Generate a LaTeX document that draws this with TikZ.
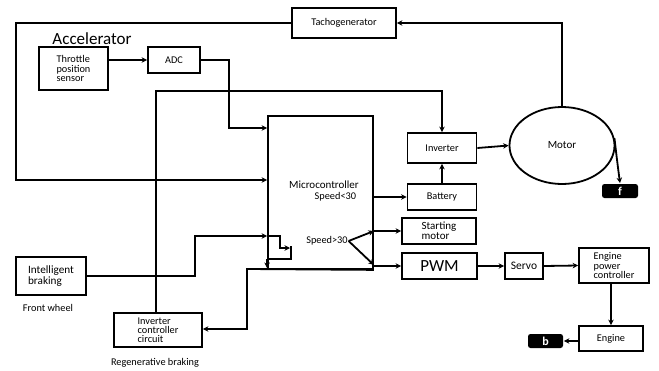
\documentclass[tikz,border=0pt]{standalone}
\usepackage{fontspec}
\setmainfont{Carlito}
\usetikzlibrary{arrows.meta,shapes.geometric}
\begin{document}
\begin{tikzpicture}[x=1pt,y=-1pt, line width=1.8pt,
 box/.style={draw, rectangle, inner sep=1pt, font=\fontsize{10.3}{9.5}\selectfont, align=left},
 lbl/.style={inner sep=0pt, font=\fontsize{10.3}{10}\selectfont},
 arr/.style={-{Stealth[length=5.5pt,width=5.5pt]}},
 tag/.style={fill=black, rounded corners=2.5pt, text=white, font=\fontsize{12}{12}\selectfont\bfseries, inner sep=0pt}]
\useasboundingbox (0,0) rectangle (659,370);
% boxes
\node[box, minimum width=104pt, minimum height=30pt] (tacho) at (344,23) {Tachogenerator};
\node[lbl, font=\fontsize{17}{17}\selectfont] (acc) at (92,39) {Accelerator};
\node[box, minimum width=69pt, minimum height=43pt] (thr) at (73.5,68.5) {Throttle\\position\\sensor};
\node[box, minimum width=52pt, minimum height=26pt] (adc) at (174,60) {ADC};
\node[draw, rectangle, minimum width=105pt, minimum height=153pt] (micro) at (320.5,192.5) {};
\node[lbl, font=\fontsize{11}{11}\selectfont] (mctext) at (324,185) {Microcontroller};
\node[lbl, anchor=east] (s30a) at (357,197) {Speed<30};
\node[lbl] (s30b) at (327,241) {Speed>30};
\node[box, minimum width=70pt, minimum height=38pt, font=\fontsize{11.2}{11}\selectfont] (ib) at (51,276) {Intelligent\\braking};
\node[lbl] (fw) at (48,308) {Front wheel};
\node[box, minimum width=88pt, minimum height=34pt, font=\fontsize{10.3}{9}\selectfont] (icc) at (158,330) {Inverter\\controller\\circuit};
\node[lbl] (rb) at (155,363) {Regenerative braking};
\node[box, minimum width=69pt, minimum height=30pt] (inv) at (442,148) {Inverter};
\node[box, minimum width=69pt, minimum height=26pt] (bat) at (442,197) {Battery};
\node[draw, ellipse, minimum width=105pt, minimum height=77pt, font=\fontsize{11}{11}\selectfont] (motor) at (562,145.5) {Motor};
\node[tag, minimum width=36pt, minimum height=14pt] (f) at (620,191) {f};
\node[box, minimum width=74pt, minimum height=26pt, font=\fontsize{11}{10}\selectfont] (stm) at (439,231) {Starting\\motor};
\node[box, minimum width=75pt, minimum height=26pt, font=\fontsize{17}{17}\selectfont] (pwm) at (439.5,266) {PWM};
\node[box, minimum width=38pt, minimum height=26pt, font=\fontsize{11.5}{11}\selectfont] (servo) at (524,266) {Servo};
\node[box, minimum width=70pt, minimum height=35pt] (epc) at (614,265.5) {Engine\\power\\controller};
\node[box, minimum width=64pt, minimum height=25pt] (eng) at (611,338.5) {Engine};
\node[tag, minimum width=35pt, minimum height=14pt] (b) at (545.5,341) {b};
% connectors
\draw[arr] (motor.north) |- (tacho.east);
\draw[arr] (tacho.west) -| (16,180) -- (micro.west |- 0,180);
\draw[arr] (thr.east |- adc.west) -- (adc.west);
\draw[arr] (adc.east) -| (229,128) -- (micro.west |- 0,128);
\draw[arr] (icc.north -| 156,0) |- (442,91) -- (inv.north);
\draw[arr] (ib.east) -| (195,236) -- (micro.west |- 0,236);
\draw[arr] (micro.west |- 0,236) -- (280,236) -- (280,248) -- (290,248);
\draw (291,246) -- (291,259) -- (micro.west |- 0,259);
\draw[arr] (micro.west |- 0,259) -- (micro.west |- 0,268);
\draw[arr] (micro.south east) -- (247,269) -- (247,329) -- (icc.east |- 0,329);
\draw[arr] (micro.east |- bat.west) -- (bat.west);
\draw[arr] (bat.north) -- (inv.south);
\draw[arr] (inv.east) -- (motor.west);
\draw[arr] (motor.8) .. controls (617,160) .. (f.north);
\draw[arr] (s30b.east) -- (micro.east |- stm.west);
\draw[arr] (s30b.east) -- (micro.east |- 0,265);
\draw[arr] (micro.east |- stm.west) -- (stm.west);
\draw[arr] (micro.east |- pwm.west) -- (pwm.west);
\draw[arr] (pwm.east) -- (servo.west);
\draw[arr] (servo.east) -- (epc.west);
\draw[arr] (epc.south -| eng.north) -- (eng.north);
\draw[arr] (eng.west |- b.east) -- (b.east);
\end{tikzpicture}
\end{document}
